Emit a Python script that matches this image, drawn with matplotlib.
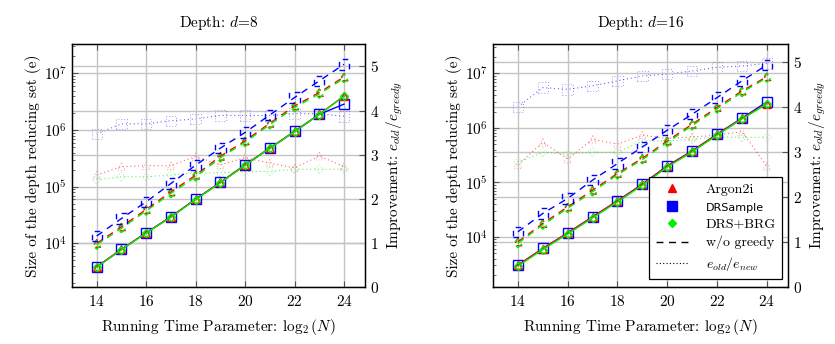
import matplotlib
matplotlib.use("Agg")
import matplotlib.pyplot as plt
from matplotlib.lines import Line2D
import numpy as np

plt.rcParams['font.family'] = 'serif'
plt.rcParams['font.serif'] = ['cmr10', 'DejaVu Serif']
plt.rcParams['mathtext.fontset'] = 'cm'
plt.rcParams['axes.formatter.use_mathtext'] = True
plt.rcParams['font.size'] = 10

x_vals = [14, 15, 16, 17, 18, 19, 20, 21, 22, 23, 24]
x_ticks = [14, 16, 18, 20, 22, 24]
titles = ["Depth: $d$=8", "Depth: $d$=16"]
series_names = ["Argon2i", "DRSample", "DRS+BRG"]

# depth 8
solid_argon_8 = [3860, 7830, 15400, 29400, 60400, 119000, 243000, 480000, 945000, 1.9e6, 4.0e6]
solid_drs_8 = [3860, 7830, 15400, 29400, 60400, 119000, 243000, 480000, 945000, 1.9e6, 2.87e6]
solid_brg_8 = [3800, 7700, 15200, 29000, 59500, 117000, 240000, 475000, 935000, 1.88e6, 3.95e6]
dashed_argon_8 = [10000, 19600, 39800, 81000, 160000, 345000, 646000, 1.32e6, 2.67e6, 4.6e6, 8.67e6]
dashed_drs_8 = [13500, 27500, 54200, 114000, 240000, 480000, 908000, 1.85e6, 3.76e6, 7.4e6, 1.45e7]
dashed_brg_8 = [9400, 18500, 37500, 76000, 150000, 325000, 610000, 1.25e6, 2.5e6, 4.35e6, 8.2e6]
ratio_argon_8 = [2.54, 2.73, 2.75, 2.75, 2.96, 2.77, 2.93, 2.81, 2.70, 2.97, 2.73]
ratio_drs_8 = [3.47, 3.70, 3.70, 3.77, 3.81, 3.89, 3.89, 3.89, 3.93, 3.93, 3.87]
ratio_brg_8 = [2.43, 2.50, 2.50, 2.54, 2.59, 2.59, 2.62, 2.62, 2.67, 2.67, 2.67]

# depth 16
solid_argon_16 = [3030, 6100, 11800, 23200, 45500, 92000, 199000, 375000, 760000, 1.49e6, 2.8e6]
solid_drs_16 = [3030, 6120, 11800, 23300, 45800, 92700, 201000, 378000, 766000, 1.51e6, 3.0e6]
solid_brg_16 = [2900, 5850, 11300, 22300, 43800, 88500, 191000, 362000, 735000, 1.45e6, 2.75e6]
dashed_argon_16 = [8100, 17600, 35500, 71900, 146000, 277000, 575000, 1.17e6, 2.37e6, 4.77e6, 8.7e6]
dashed_drs_16 = [12400, 26900, 50700, 110000, 222000, 447000, 908000, 1.78e6, 3.6e6, 7.3e6, 1.43e7]
dashed_brg_16 = [7600, 16600, 33500, 67500, 138000, 262000, 545000, 1.1e6, 2.25e6, 4.5e6, 8.3e6]
ratio_argon_16 = [2.72, 3.22, 2.85, 3.29, 3.18, 3.38, 3.31, 3.34, 3.38, 3.46, 2.69]
ratio_drs_16 = [4.01, 4.44, 4.40, 4.48, 4.59, 4.70, 4.74, 4.81, 4.89, 4.92, 4.98]
ratio_brg_16 = [2.78, 3.00, 2.96, 3.00, 3.00, 3.25, 3.25, 3.29, 3.34, 3.33, 3.33]

colors = ['#ff0000', '#0000ff', '#00ee00']
markers = ['^', 's', 'D']
msizes = [5.5, 7.5, 4.5]

panels = [
    dict(solid=[solid_argon_8, solid_drs_8, solid_brg_8],
         dashed=[dashed_argon_8, dashed_drs_8, dashed_brg_8],
         ratio=[ratio_argon_8, ratio_drs_8, ratio_brg_8],
         rect=[72/835, 57/344, 293/835, 243/344], ylim=(10**3.23, 10**7.52), y2lim=(0, 5.51)),
    dict(solid=[solid_argon_16, solid_drs_16, solid_brg_16],
         dashed=[dashed_argon_16, dashed_drs_16, dashed_brg_16],
         ratio=[ratio_argon_16, ratio_drs_16, ratio_brg_16],
         rect=[493/835, 57/344, 295/835, 243/344], ylim=(10**3.08, 10**7.54), y2lim=(0, 5.41)),
]

fig = plt.figure(figsize=(8.35, 3.44), dpi=100)
grid_c = '#c4c4c4'

for i, p in enumerate(panels):
    ax = fig.add_axes(p['rect'])
    ax2 = ax.twinx()
    ax.set_zorder(ax2.get_zorder() + 1)
    ax.patch.set_visible(False)

    ax.set_yscale('log')
    ax.set_xlim(13, 24.85)
    ax.set_ylim(*p['ylim'])
    ax2.set_ylim(*p['y2lim'])
    ax.set_xticks(x_ticks)
    ax2.set_yticks([0, 1, 2, 3, 4, 5])

    ax.grid(True, which='major', color=grid_c, lw=1.0)
    ax2.grid(True, which='major', axis='y', color=grid_c, lw=1.0)
    ax.set_axisbelow(True)
    ax2.set_axisbelow(True)

    ax.tick_params(which='both', direction='in', top=True, right=False, labelsize=11)
    ax.tick_params(which='major', length=4, color='#555555')
    ax.tick_params(which='minor', length=2.5, color='#555555')
    ax.tick_params(axis='x', pad=5)
    ax2.tick_params(direction='in', length=4, labelsize=11, color='#555555')
    for sp in ax.spines.values():
        sp.set_linewidth(1.0)

    # dotted ratio lines (right axis)
    for k in range(3):
        ax2.plot(x_vals, p['ratio'][k], linestyle=(0, (1, 2.5)), color=colors[k], lw=0.8, alpha=0.6)
        ax2.scatter(x_vals, p['ratio'][k], marker=markers[k], s=msizes[k]**2, facecolors='none',
                    edgecolors=colors[k], linewidths=0.7, linestyles=(0, (1, 2)), alpha=0.4)

    # dashed w/o greedy
    for k in [0, 2, 1]:
        ax.plot(x_vals, p['dashed'][k], linestyle=(0, (5, 4)), color=colors[k], lw=1.0, zorder=3)
        ax.scatter(x_vals, p['dashed'][k], marker=markers[k], s=msizes[k]**2, facecolors='none',
                   edgecolors=colors[k], linewidths=1.0, linestyles=(0, (4, 4)), zorder=3)

    # solid greedy
    for k in [1, 0, 2]:
        ax.plot(x_vals, p['solid'][k], linestyle='-', color=colors[k], lw=1.0, marker=markers[k],
                markersize=msizes[k], markerfacecolor='none', markeredgewidth=1.0, zorder=4)

    ax.set_title(titles[i], fontsize=11, pad=12)
    ax.set_xlabel(r"Running Time Parameter: $\log_2(N)$", fontsize=11, labelpad=6)
    ax.set_ylabel("Size of the depth reducing set (e)", fontsize=11, labelpad=2)
    ax2.set_ylabel(r"Improvement: $e_{old}/e_{greedy}$", fontsize=11, labelpad=4)

    if i == 1:
        handles = [
            Line2D([], [], color=colors[0], marker='^', linestyle='none', markersize=6),
            Line2D([], [], color=colors[1], marker='s', linestyle='none', markersize=7),
            Line2D([], [], color=colors[2], marker='D', linestyle='none', markersize=4.5),
            Line2D([], [], color='black', linestyle=(0, (5, 4)), lw=1.0),
            Line2D([], [], color='black', linestyle=(0, (1, 2)), lw=0.8),
        ]
        labels = ["Argon2i", "DRSample", "DRS+BRG", "w/o greedy", r"$e_{old}/e_{new}$"]
        leg = ax.legend(handles, labels, loc='lower right', bbox_to_anchor=(0.98, 0.033),
                        fancybox=False, edgecolor='black', framealpha=1.0, fontsize=10,
                        handlelength=2.4, handletextpad=1.2, borderpad=0.45,
                        labelspacing=0.38, borderaxespad=0)
        leg.get_frame().set_linewidth(0.9)
        leg.set_zorder(10)
        for t in leg.get_texts():
            if t.get_text() == "DRSample":
                t.set_fontfamily('DejaVu Sans')
                t.set_fontsize(8)

fig.savefig("out.png", dpi=100)
